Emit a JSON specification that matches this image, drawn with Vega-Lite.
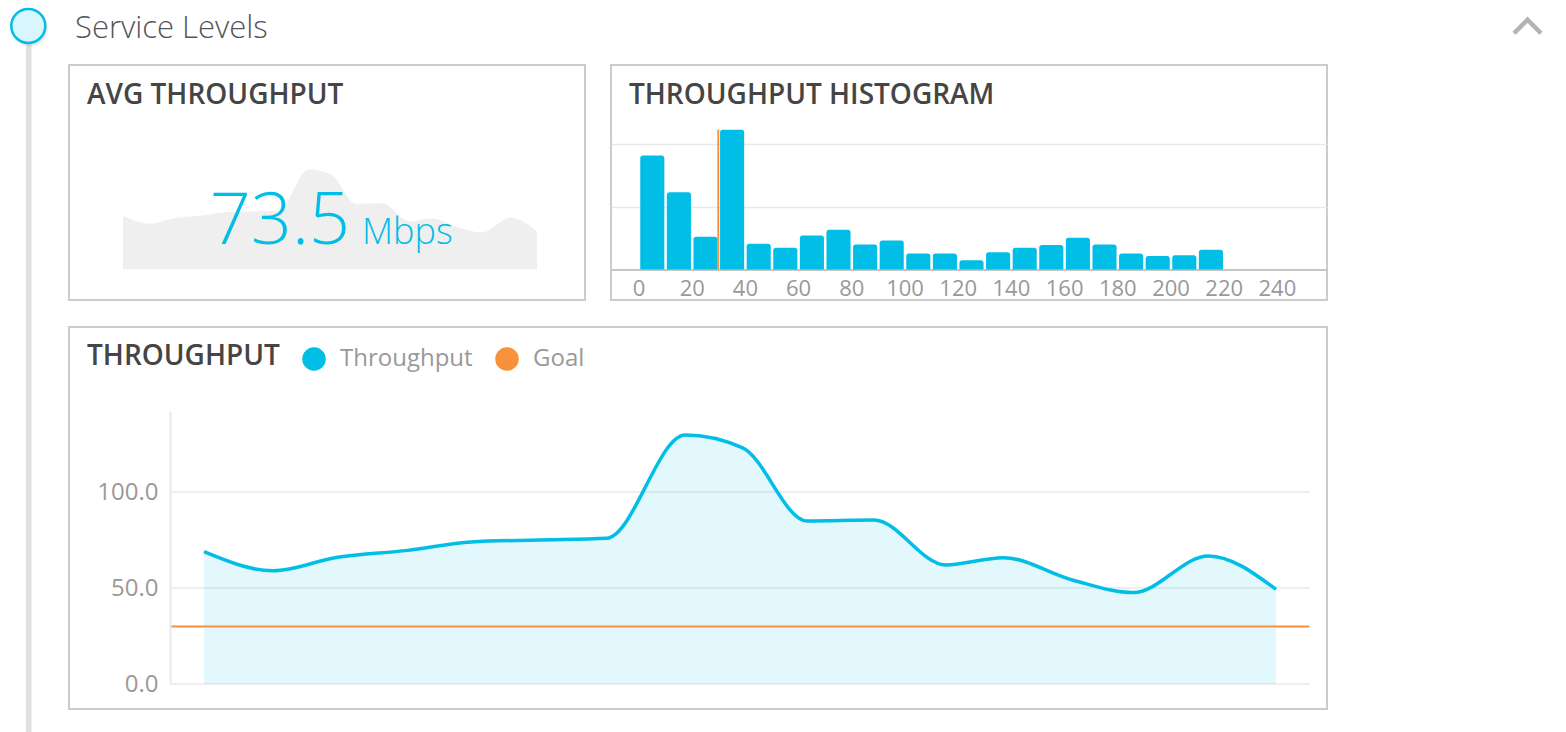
{
  "$schema": "https://vega.github.io/schema/vega-lite/v6.json",
  "padding": 0,
  "background": "#ffffff",
  "bounds": "flush",
  "spacing": 0,
  "resolve": {"scale": {"color": "independent"}, "legend": {"color": "independent"}},
  "config": {
    "view": {"stroke": null},
    "font": "Open Sans"
  },
  "datasets": {
    "throughput": [
      {"t": 0, "mbps": 68.9},
      {"t": 1.03, "mbps": 59.0},
      {"t": 1.99, "mbps": 66.0},
      {"t": 3.04, "mbps": 69.6},
      {"t": 3.99, "mbps": 74.0},
      {"t": 5, "mbps": 75.0},
      {"t": 6.01, "mbps": 75.9},
      {"t": 7.18, "mbps": 129.7},
      {"t": 8.04, "mbps": 123.0},
      {"t": 9, "mbps": 84.9},
      {"t": 10, "mbps": 85.4},
      {"t": 11.07, "mbps": 62.0},
      {"t": 11.93, "mbps": 65.8},
      {"t": 12.96, "mbps": 54.2},
      {"t": 13.87, "mbps": 47.6},
      {"t": 14.99, "mbps": 66.7},
      {"t": 16, "mbps": 49.3}
    ],
    "histogram": [
      {"bin_start": 0, "bin_end": 10, "count": 36.2},
      {"bin_start": 10, "bin_end": 20, "count": 24.5},
      {"bin_start": 20, "bin_end": 30, "count": 10.4},
      {"bin_start": 30, "bin_end": 40, "count": 44.4},
      {"bin_start": 40, "bin_end": 50, "count": 8.2},
      {"bin_start": 50, "bin_end": 60, "count": 6.9},
      {"bin_start": 60, "bin_end": 70, "count": 10.8},
      {"bin_start": 70, "bin_end": 80, "count": 12.6},
      {"bin_start": 80, "bin_end": 90, "count": 7.9},
      {"bin_start": 90, "bin_end": 100, "count": 9.2},
      {"bin_start": 100, "bin_end": 110, "count": 5.1},
      {"bin_start": 110, "bin_end": 120, "count": 5.1},
      {"bin_start": 120, "bin_end": 130, "count": 2.9},
      {"bin_start": 130, "bin_end": 140, "count": 5.5},
      {"bin_start": 140, "bin_end": 150, "count": 6.9},
      {"bin_start": 150, "bin_end": 160, "count": 7.8},
      {"bin_start": 160, "bin_end": 170, "count": 10.1},
      {"bin_start": 170, "bin_end": 180, "count": 7.9},
      {"bin_start": 180, "bin_end": 190, "count": 5.1},
      {"bin_start": 190, "bin_end": 200, "count": 4.3},
      {"bin_start": 200, "bin_end": 210, "count": 4.5},
      {"bin_start": 210, "bin_end": 220, "count": 6.3}
    ],
    "goal": [{"goal": 30}],
    "gridlines": [{"v": 0}, {"v": 50}, {"v": 100}]
  },
  "hconcat": [
    {
      "width": 69,
      "height": 732,
      "data": {"values": [{}]},
      "layer": [
        {
          "mark": {"type": "rule", "color": "#e1e1e3", "strokeWidth": 5.5},
          "encoding": {
            "x": {"datum": 0.417, "type": "quantitative", "scale": {"domain": [0, 1], "nice": false, "zero": false}, "axis": null},
            "y": {"datum": 0, "type": "quantitative", "scale": {"domain": [0, 1], "nice": false, "zero": false}, "axis": null},
            "y2": {"datum": 0.9645}
          }
        },
        {
          "mark": {"type": "point", "shape": "circle", "filled": true, "fill": "#000000", "opacity": 0.07, "size": 1300, "strokeWidth": 0},
          "encoding": {
            "x": {"datum": 0.435, "type": "quantitative", "axis": null},
            "y": {"datum": 0.961, "type": "quantitative", "axis": null}
          }
        },
        {
          "mark": {"type": "point", "shape": "circle", "filled": true, "fill": "#d9f6fc", "stroke": "#00bee6", "strokeWidth": 2.5, "opacity": 1, "size": 1156},
          "encoding": {
            "x": {"datum": 0.41, "type": "quantitative", "axis": null},
            "y": {"datum": 0.9645, "type": "quantitative", "axis": null}
          }
        }
      ]
    },
    {
      "vconcat": [
        {
          "width": 1497,
          "height": 38,
          "data": {"values": [{}]},
          "layer": [
            {
              "mark": {"type": "text", "text": "Service Levels", "align": "left", "baseline": "alphabetic", "fontSize": 31, "fontWeight": 300, "color": "#555555"},
              "encoding": {
                "x": {"datum": 0.004, "type": "quantitative", "scale": {"domain": [0, 1], "nice": false, "zero": false}, "axis": null},
                "y": {"datum": 0.01, "type": "quantitative", "scale": {"domain": [0, 1], "nice": false, "zero": false}, "axis": null}
              }
            },
            {
              "mark": {"type": "point", "shape": "M-1,0.5L0,-0.5L1,0.5", "filled": false, "stroke": "#b3b3b3", "strokeWidth": 4.5, "size": 729, "opacity": 1, "strokeJoin": "miter", "strokeCap": "butt"},
              "encoding": {
                "x": {"datum": 0.9743, "type": "quantitative", "axis": null},
                "y": {"datum": 0.3026, "type": "quantitative", "axis": null}
              }
            }
          ]
        },
        {
          "vconcat": [
            {
              "hconcat": [
                {
                  "width": 516,
                  "height": 235,
                  "view": {"stroke": "#cccccc", "strokeWidth": 2},
                  "layer": [
                    {
                      "data": {"name": "throughput"},
                      "mark": {"type": "area", "interpolate": "monotone", "color": "#efefef"},
                      "encoding": {
                        "x": {"field": "t", "type": "quantitative", "scale": {"domain": [-2.087, 17.855], "nice": false, "zero": false}, "axis": null},
                        "y": {"field": "mbps", "type": "quantitative", "scale": {"domain": [-39.77, 264.6], "nice": false, "zero": false}, "axis": null},
                        "y2": {"datum": 0}
                      }
                    },
                    {
                      "data": {"values": [{}]},
                      "mark": {"type": "text", "text": "73.5", "align": "right", "baseline": "alphabetic", "fontSize": 72, "fontWeight": 300, "color": "#00bee6"},
                      "encoding": {
                        "x": {"datum": 8.78, "type": "quantitative", "axis": null},
                        "y": {"datum": 32.4, "type": "quantitative", "axis": null}
                      }
                    },
                    {
                      "data": {"values": [{}]},
                      "mark": {"type": "text", "text": "Mbps", "align": "left", "baseline": "alphabetic", "fontSize": 36, "fontWeight": 300, "color": "#00bee6"},
                      "encoding": {
                        "x": {"datum": 9.237, "type": "quantitative", "axis": null},
                        "y": {"datum": 32.4, "type": "quantitative", "axis": null}
                      }
                    },
                    {
                      "data": {"values": [{}]},
                      "mark": {"type": "text", "text": "AVG THROUGHPUT", "align": "left", "baseline": "alphabetic", "fontSize": 28, "fontWeight": 600, "color": "#454545"},
                      "encoding": {
                        "x": {"datum": -1.391, "type": "quantitative", "axis": null},
                        "y": {"datum": 214.1, "type": "quantitative", "axis": null}
                      }
                    }
                  ]
                },
                {
                  "width": 716,
                  "height": 235,
                  "view": {"stroke": "#cccccc", "strokeWidth": 2},
                  "layer": [
                    {
                      "data": {"name": "histogram"},
                      "mark": {"type": "bar", "color": "#00bee6", "binSpacing": 2.5, "cornerRadiusTopLeft": 2.5, "cornerRadiusTopRight": 2.5},
                      "encoding": {
                        "x": {
                          "field": "bin_start", "type": "quantitative", "bin": "binned",
                          "scale": {"domain": [-10.34, 258.83], "nice": false, "zero": false},
                          "axis": {"orient": "bottom", "offset": -30.5, "values": [0, 20, 40, 60, 80, 100, 120, 140, 160, 180, 200, 220, 240], "domain": true, "domainColor": "#c6c6c6", "domainWidth": 2, "ticks": false, "grid": false, "labelPadding": 9, "labelFontSize": 22, "labelColor": "#999999", "labelFont": "Open Sans", "labelFlush": false, "labelOverlap": false, "title": null}
                        },
                        "x2": {"field": "bin_end"},
                        "y": {
                          "field": "count", "type": "quantitative",
                          "scale": {"domain": [-9.68, 64.92], "nice": false, "zero": false},
                          "axis": {"orient": "left", "values": [20, 40], "grid": true, "gridColor": "#e9e9e9", "gridWidth": 1.5, "labels": false, "ticks": false, "domain": false, "title": null}
                        },
                        "y2": {"datum": 0}
                      }
                    },
                    {
                      "data": {"name": "goal"},
                      "mark": {"type": "rule", "color": "#f7923a", "strokeWidth": 2},
                      "encoding": {
                        "x": {"field": "goal", "type": "quantitative"},
                        "y": {"datum": 0, "type": "quantitative"},
                        "y2": {"datum": 44.4}
                      }
                    },
                    {
                      "data": {"values": [{}]},
                      "mark": {"type": "text", "text": "THROUGHPUT HISTOGRAM", "align": "left", "baseline": "alphabetic", "fontSize": 28, "fontWeight": 600, "color": "#454545"},
                      "encoding": {
                        "x": {"datum": -3.57, "type": "quantitative"},
                        "y": {"datum": 52.54, "type": "quantitative"}
                      }
                    }
                  ]
                }
              ],
              "spacing": 26,
              "bounds": "flush"
            },
            {
              "width": 1258,
              "height": 382,
              "view": {"stroke": "#cccccc", "strokeWidth": 2},
              "layer": [
                {
                  "data": {"name": "gridlines"},
                  "mark": {"type": "rule", "color": "#e9e9e9", "strokeWidth": 1.5},
                  "encoding": {
                    "x": {"datum": -0.5, "type": "quantitative", "scale": {"domain": [-2.015, 16.761], "nice": false, "zero": false}, "axis": null},
                    "x2": {"datum": 16.5},
                    "y": {
                      "field": "v", "type": "quantitative",
                      "scale": {"domain": [-13.02, 185.94], "nice": false, "zero": false},
                      "axis": {"orient": "left", "offset": -101, "values": [0, 50, 100], "format": ".1f", "domain": false, "ticks": false, "grid": false, "labelPadding": 12, "labelFontSize": 24, "labelColor": "#999999", "labelFont": "Open Sans", "title": null}
                    }
                  }
                },
                {
                  "data": {"name": "throughput"},
                  "mark": {"type": "area", "interpolate": "monotone", "color": "#00bee6", "opacity": 0.11},
                  "encoding": {
                    "x": {"field": "t", "type": "quantitative", "axis": null},
                    "y": {"field": "mbps", "type": "quantitative", "axis": {"orient": "left", "offset": -101, "values": [0, 50, 100], "format": ".1f", "domain": false, "ticks": false, "grid": false, "labelPadding": 12, "labelFontSize": 24, "labelColor": "#999999", "labelFont": "Open Sans", "title": null}},
                    "y2": {"datum": 0}
                  }
                },
                {
                  "data": {"name": "goal"},
                  "mark": {"type": "rule", "strokeWidth": 2},
                  "encoding": {
                    "x": {"datum": -0.5, "type": "quantitative", "axis": null},
                    "x2": {"datum": 16.5},
                    "y": {"field": "goal", "type": "quantitative", "axis": {"orient": "left", "offset": -101, "values": [0, 50, 100], "format": ".1f", "domain": false, "ticks": false, "grid": false, "labelPadding": 12, "labelFontSize": 24, "labelColor": "#999999", "labelFont": "Open Sans", "title": null}},
                    "color": {
                      "datum": "Goal", "type": "nominal",
                      "scale": {"domain": ["Throughput", "Goal"], "range": ["#00bee6", "#f7923a"]},
                      "legend": {"orient": "none", "legendX": 233, "legendY": 20, "direction": "horizontal", "title": null, "symbolType": "circle", "symbolSize": 144, "symbolStrokeWidth": 11.5, "labelFontSize": 24, "labelColor": "#999999", "labelFont": "Open Sans", "labelOffset": 14, "columnPadding": 5, "padding": 0, "encode": {"symbols": {"update": {"strokeWidth": {"value": 11.5}, "opacity": {"value": 1}}}}}
                    }
                  }
                },
                {
                  "data": {"name": "throughput"},
                  "mark": {"type": "line", "interpolate": "monotone", "strokeWidth": 3.5},
                  "encoding": {
                    "x": {"field": "t", "type": "quantitative", "axis": null},
                    "y": {"field": "mbps", "type": "quantitative", "axis": {"orient": "left", "offset": -101, "values": [0, 50, 100], "format": ".1f", "domain": false, "ticks": false, "grid": false, "labelPadding": 12, "labelFontSize": 24, "labelColor": "#999999", "labelFont": "Open Sans", "title": null}},
                    "color": {
                      "datum": "Throughput", "type": "nominal",
                      "scale": {"domain": ["Throughput", "Goal"], "range": ["#00bee6", "#f7923a"]},
                      "legend": {"orient": "none", "legendX": 233, "legendY": 20, "direction": "horizontal", "title": null, "symbolType": "circle", "symbolSize": 144, "symbolStrokeWidth": 11.5, "labelFontSize": 24, "labelColor": "#999999", "labelFont": "Open Sans", "labelOffset": 14, "columnPadding": 5, "padding": 0, "encode": {"symbols": {"update": {"strokeWidth": {"value": 11.5}, "opacity": {"value": 1}}}}}
                    }
                  }
                },
                {
                  "data": {"values": [{}]},
                  "mark": {"type": "rule", "color": "#e9e9e9", "strokeWidth": 2},
                  "encoding": {
                    "x": {"datum": -0.5, "type": "quantitative", "axis": null},
                    "y": {"datum": 0, "type": "quantitative", "axis": {"orient": "left", "offset": -101, "values": [0, 50, 100], "format": ".1f", "domain": false, "ticks": false, "grid": false, "labelPadding": 12, "labelFontSize": 24, "labelColor": "#999999", "labelFont": "Open Sans", "title": null}},
                    "y2": {"datum": 141.7}
                  }
                },
                {
                  "data": {"values": [{}]},
                  "mark": {"type": "text", "text": "THROUGHPUT", "align": "left", "baseline": "alphabetic", "fontSize": 28, "fontWeight": 600, "color": "#454545"},
                  "encoding": {
                    "x": {"datum": -1.746, "type": "quantitative", "axis": null},
                    "y": {"datum": 166.15, "type": "quantitative", "axis": {"orient": "left", "offset": -101, "values": [0, 50, 100], "format": ".1f", "domain": false, "ticks": false, "grid": false, "labelPadding": 12, "labelFontSize": 24, "labelColor": "#999999", "labelFont": "Open Sans", "title": null}}
                  }
                }
              ]
            }
          ],
          "spacing": 25,
          "resolve": {"scale": {"color": "independent"}, "legend": {"color": "independent"}}
        }
      ],
      "spacing": 27,
      "bounds": "flush",
      "resolve": {"scale": {"color": "independent"}, "legend": {"color": "independent"}}
    }
  ]
}
